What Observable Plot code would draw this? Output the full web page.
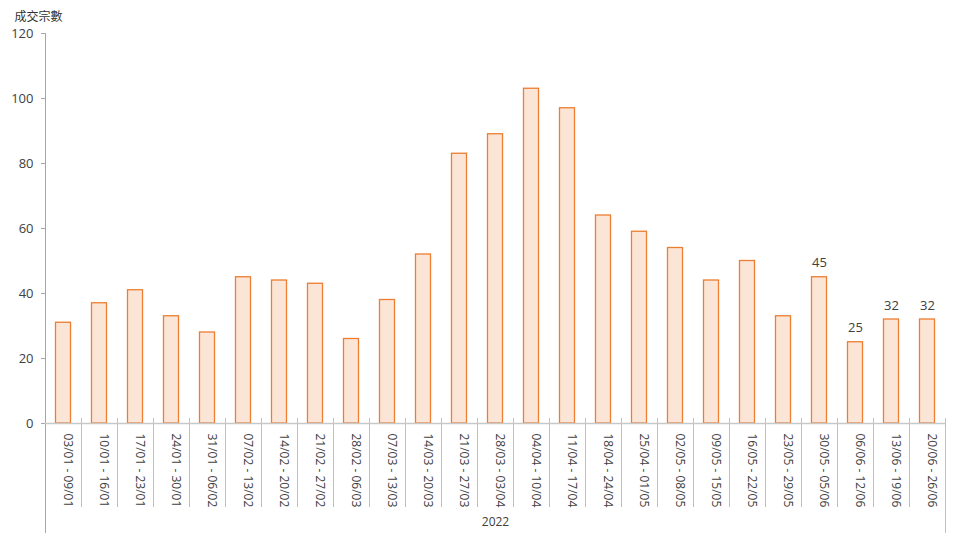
<!DOCTYPE html>
<html>
<head>
<meta charset="utf-8">
<script src="https://cdn.jsdelivr.net/npm/d3@7"></script>
<script src="https://cdn.jsdelivr.net/npm/@observablehq/plot@0.6"></script>
<style>
  html, body { margin: 0; padding: 0; background: #fff; }
  #chart svg { display: block; }
</style>
</head>
<body>
<div id="chart"></div>
<script>
const weeks = [
  "03/01 - 09/01", "10/01 - 16/01", "17/01 - 23/01", "24/01 - 30/01", "31/01 - 06/02",
  "07/02 - 13/02", "14/02 - 20/02", "21/02 - 27/02", "28/02 - 06/03", "07/03 - 13/03",
  "14/03 - 20/03", "21/03 - 27/03", "28/03 - 03/04", "04/04 - 10/04", "11/04 - 17/04",
  "18/04 - 24/04", "25/04 - 01/05", "02/05 - 08/05", "09/05 - 15/05", "16/05 - 22/05",
  "23/05 - 29/05", "30/05 - 05/06", "06/06 - 12/06", "13/06 - 19/06", "20/06 - 26/06"
];
const transactions = [31, 37, 41, 33, 28, 45, 44, 43, 26, 38, 52, 83, 89, 103, 97, 64, 59, 54, 44, 50, 33, 45, 25, 32, 32];
const labeledWeeks = ["30/05 - 05/06", "06/06 - 12/06", "13/06 - 19/06", "20/06 - 26/06"];
const yTicks = [0, 20, 40, 60, 80, 100, 120];
const yTitle = "成交宗數";
const yearLabel = "2022";

const data = weeks.map((w, i) => ({week: w, value: transactions[i]}));
const labeled = data.filter(d => labeledWeeks.includes(d.week));

const font = "'Open Sans', 'Noto Sans CJK TC', sans-serif";
const W = 954, H = 542;
const mL = 45, mR = 9, mT = 33, mB = 119;
const band = (W - mL - mR) / weeks.length;

const chart = Plot.plot({
  width: W,
  height: H,
  marginLeft: mL,
  marginRight: mR,
  marginTop: mT,
  marginBottom: mB,
  style: {fontFamily: font, fontSize: "13px", color: "#404040", background: "#fff"},
  x: {domain: weeks, padding: 0, axis: null},
  y: {domain: [0, 120], axis: null},
  marks: [
    // inner category separators below the axis
    Plot.ruleX(weeks.slice(1), {x: d => d, dx: -band / 2, insetTop: H - mT - mB - 5, insetBottom: -84, stroke: "#bfbfbf", strokeWidth: 1}),
    // left vertical line (y axis) extended down
    Plot.ruleX([weeks[0]], {x: d => d, dx: -band / 2, insetTop: 0, insetBottom: -110, stroke: "#a6a6a6", strokeWidth: 1}),
    // right vertical line below axis
    Plot.ruleX([weeks[weeks.length - 1]], {x: d => d, dx: band / 2, insetTop: H - mT - mB - 5, insetBottom: -110, stroke: "#bfbfbf", strokeWidth: 1}),
    Plot.barY(data, {x: "week", y: "value", fill: "#fbe5d6", stroke: "#ed7d31", strokeWidth: 1.3, insetLeft: 10.5, insetRight: 10.5}),
    Plot.ruleY([0], {stroke: "#c8c8c8", strokeWidth: 1.5}),
    Plot.axisY({ticks: yTicks, tickSize: 4, tickPadding: 8, label: null, stroke: "#a6a6a6", fontSize: 13, fill: "#404040"}),
    Plot.text(data, {x: "week", frameAnchor: "bottom", dy: 10, rotate: 90, textAnchor: "start", text: "week", fontSize: 12, fill: "#404040"}),
    Plot.text(labeled, {x: "week", y: "value", text: d => String(d.value), dy: -14, fontSize: 13, fill: "#404040"}),
    Plot.text([yTitle], {frameAnchor: "top-left", dx: -31, dy: -21, textAnchor: "start", text: d => d, fontSize: 12, fill: "#333", fontFamily: "'Noto Sans CJK TC', sans-serif"}),
    Plot.text([yearLabel], {frameAnchor: "bottom", dy: 102, text: d => d, fontSize: 12, fill: "#404040"})
  ]
});
document.getElementById("chart").appendChild(chart);
</script>
</body>
</html>
